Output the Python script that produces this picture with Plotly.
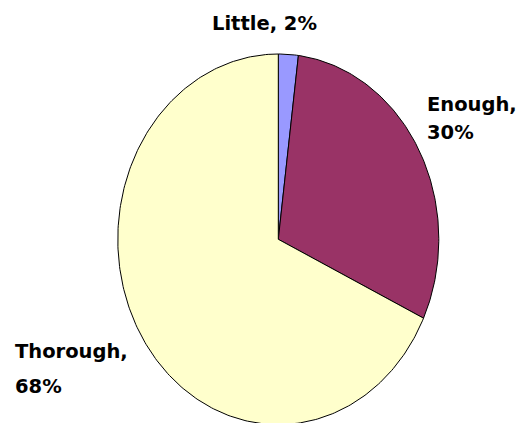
import numpy as np
import plotly.graph_objects as go

# Survey answers and their shares (%)
labels = ["Little", "Enough", "Thorough"]
values = [2, 30, 68]
colors = ["#9999FF", "#993366", "#FFFFCC"]

W, H = 523, 423
# Pie centre and radii in pixels (the pie is drawn as an ellipse)
CX, CY = 278.3, 239.3
RX, RY = 160.5, 185.3

fig = go.Figure()

# Slices run clockwise from 12 o'clock, each sweeping value/total of the turn
total = float(sum(values))
start = 0.0
for lab, val, col in zip(labels, values, colors):
    end = start + val / total * 2 * np.pi
    t = np.linspace(start, end, max(int(val * 4), 12))
    xs = np.concatenate([[0.0], np.sin(t), [0.0]])
    ys = np.concatenate([[0.0], np.cos(t), [0.0]])
    fig.add_trace(go.Scatter(
        x=xs, y=ys, mode="lines", fill="toself", fillcolor=col,
        line=dict(color="black", width=1), hoverinfo="skip",
        showlegend=False, name=lab,
    ))
    start = end

# Label placement (pixel position of each text line, anchor)
label_pos = {
    "Little": [(264.5, 23.5, "center")],
    "Enough": [(424.5, 104.0, "left"), (424.5, 132.0, "left")],
    "Thorough": [(13.0, 351.5, "left"), (13.0, 386.0, "left")],
}

font = dict(family="DejaVu Sans", size=19.5, color="black")
for lab, val in zip(labels, values):
    pos = label_pos[lab]
    if len(pos) == 1:
        lines = [f"{lab}, {val}%"]
    else:
        lines = [f"{lab},", f"{val}%"]
    for (px, py, anchor), line in zip(pos, lines):
        fig.add_annotation(
            x=px / W, y=1 - py / H, xref="paper", yref="paper",
            text=f"<b>{line}</b>", showarrow=False,
            xanchor=anchor, yanchor="middle", font=font,
        )

fig.update_layout(
    width=W, height=H,
    margin=dict(l=0, r=0, t=0, b=0),
    paper_bgcolor="white", plot_bgcolor="white",
    xaxis=dict(range=[-CX / RX, (W - CX) / RX], visible=False, fixedrange=True),
    yaxis=dict(range=[-(H - CY) / RY, CY / RY], visible=False, fixedrange=True),
    showlegend=False,
)

fig.write_html("out.html")
